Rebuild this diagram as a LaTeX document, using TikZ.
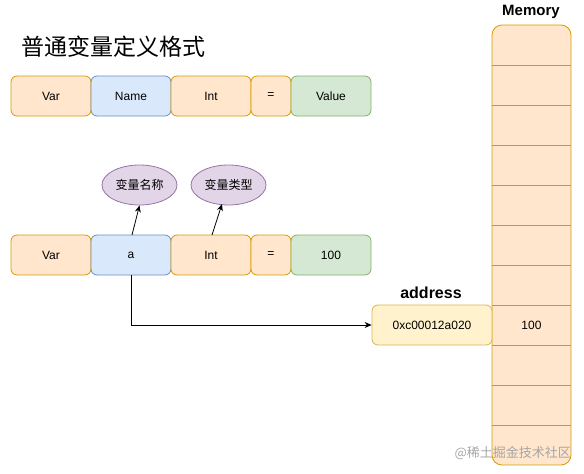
\documentclass[tikz,border=0pt]{standalone}
\usepackage{fontspec}
\setmainfont{Liberation Sans}
\newfontfamily\cjk{Noto Sans CJK SC}
\usetikzlibrary{shapes.geometric,arrows.meta}
\definecolor{orF}{HTML}{FFE6CC}\definecolor{orD}{HTML}{D79B00}
\definecolor{blF}{HTML}{DAE8FC}\definecolor{blD}{HTML}{6C8EBF}
\definecolor{grF}{HTML}{D5E8D4}\definecolor{grD}{HTML}{82B366}
\definecolor{puF}{HTML}{E1D5E7}\definecolor{puD}{HTML}{9673A6}
\definecolor{yeF}{HTML}{FFF2CC}\definecolor{yeD}{HTML}{D6B656}
\tikzset{
  cell/.style={draw, rounded corners=6pt, minimum height=40pt, inner sep=0pt, font=\fontsize{12}{14}\selectfont, line width=0.8pt},
  orcell/.style={cell, fill=orF, draw=orD},
  blcell/.style={cell, fill=blF, draw=blD},
  grcell/.style={cell, fill=grF, draw=grD},
  ycell/.style={cell, fill=yeF, draw=yeD},
  bubble/.style={ellipse, draw=puD, fill=puF, minimum width=75pt, minimum height=40pt, inner sep=0pt, line width=0.8pt, font=\cjk\fontsize{12}{14}\selectfont},
  conn/.style={-{Stealth[length=7pt,width=6pt]}, line width=0.8pt},
}
\begin{document}
\begin{tikzpicture}[x=1pt,y=-1pt]
\path[use as bounding box] (0,0) rectangle (584,474);
% title
\node[anchor=west, font=\cjk\fontsize{23}{27}\selectfont, inner sep=0pt] (title) at (21,47) {普通变量定义格式};
% row 1
\node[orcell, minimum width=80pt] (v1) at (51,96) {Var};
\node[blcell, minimum width=80pt] (n1) at (131,96) {Name};
\node[orcell, minimum width=80pt] (i1) at (211,96) {Int};
\node[orcell, minimum width=40pt] (e1) at (271,96) {=};
\node[grcell, minimum width=80pt] (val1) at (331,96) {Value};
% row 2
\node[orcell, minimum width=80pt] (v2) at (51,255) {Var};
\node[blcell, minimum width=80pt] (a2) at (131,255) {a};
\node[orcell, minimum width=80pt] (i2) at (211,255) {Int};
\node[orcell, minimum width=40pt] (e2) at (271,255) {=};
\node[grcell, minimum width=80pt] (val2) at (331,255) {100};
% bubbles
\node[bubble] (nm) at (139.5,185) {变量名称};
\node[bubble] (tp) at (228.5,185) {变量类型};
\draw[conn] (132,235) -- (nm.south);
\draw[conn] (212,235) -- (222,204);
% memory
\node[font=\bfseries\fontsize{15}{17}\selectfont] (memlbl) at (531,12) {Memory};
\draw[draw=orD, fill=orF, line width=0.8pt, rounded corners=10pt] (492,25) rectangle (571,465);
\foreach \yy in {65,105,...,425} {\draw[draw=orD, line width=0.8pt] (492,\yy) -- (571,\yy);}
\node[font=\fontsize{12}{14}\selectfont] (m100) at (531.5,325) {100};
% address
\node[font=\bfseries\fontsize{16}{18}\selectfont] (addrlbl) at (431,293) {address};
\node[ycell, minimum width=120pt] (addr) at (432,325) {0xc00012a020};
\coordinate (bend) at (131,325);
\draw[conn, rounded corners=0pt] (a2.south) -- (bend) -- (addr.west);
% watermark
\node[anchor=east, text=gray!70, font=\cjk\fontsize{13}{15}\selectfont, inner sep=0pt] (wm) at (571,453) {@稀土掘金技术社区};
\end{tikzpicture}
\end{document}
